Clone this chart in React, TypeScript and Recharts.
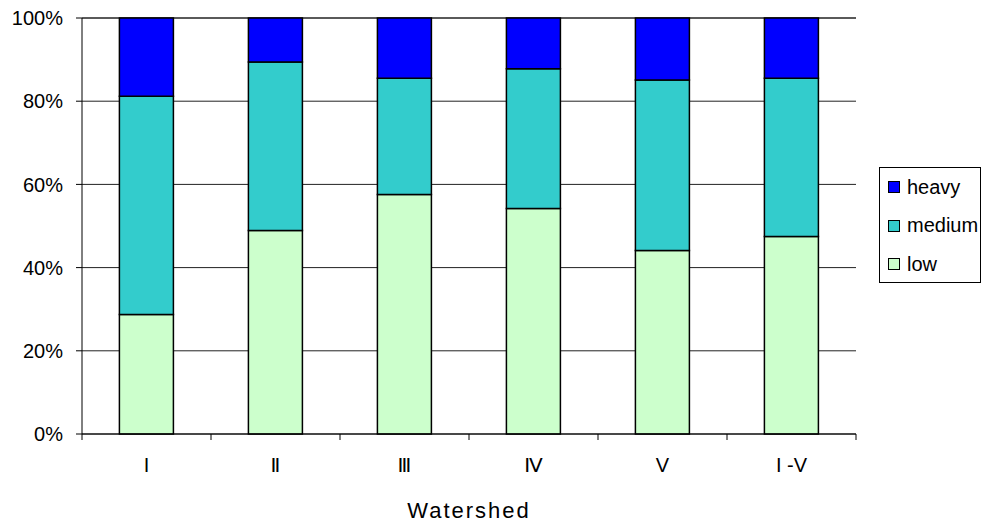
import React from 'react'
import { BarChart, Bar, XAxis, YAxis, CartesianGrid, Label } from 'recharts'

const watersheds = ['I', 'Ⅱ', 'Ⅲ', 'Ⅳ', 'V', 'I -V']
const low = [28.7, 48.9, 57.6, 54.2, 44.1, 47.5]
const medium = [52.5, 40.5, 27.9, 33.6, 41.0, 38.0]
const heavy = [18.8, 10.6, 14.5, 12.2, 14.9, 14.5]
const percentTicks = [0, 20, 40, 60, 80, 100]

const series = [
  { key: 'heavy', color: '#0000ff' },
  { key: 'medium', color: '#33cccc' },
  { key: 'low', color: '#ccffcc' },
]

const data = watersheds.map((name, i) => ({
  name,
  low: low[i],
  medium: medium[i],
  heavy: heavy[i],
}))

const FONT = '"Liberation Sans", Arial, "DejaVu Sans", sans-serif'

// category label centred in its band, with tick marks on the band edges
const BandTick = (props: any) => {
  const { x, y, payload, index, visibleTicksCount } = props
  const half = payload.offset || 0
  const isLast = index === visibleTicksCount - 1
  return (
    <g>
      <line x1={x - half} x2={x - half} y1={y} y2={y + 6} stroke="#000" />
      {isLast && <line x1={x + half} x2={x + half} y1={y} y2={y + 6} stroke="#000" />}
      <text x={x} y={y + 38} textAnchor="middle" fontSize={20} fill="#000" fontFamily={FONT}>
        {payload.value}
      </text>
    </g>
  )
}

const LegendBox = () => (
  <div
    style={{
      position: 'absolute',
      left: 879,
      top: 167,
      border: '1px solid #000',
      background: '#fff',
      width: 102,
      height: 116,
      boxSizing: 'border-box',
      padding: '0 0 0 8px',
      fontFamily: FONT,
      fontSize: 20,
      color: '#000',
    }}
  >
    {series.map((s) => (
      <div key={s.key} style={{ display: 'flex', alignItems: 'center', height: 38.5 }}>
        <span
          style={{
            display: 'inline-block',
            width: 12,
            height: 12,
            background: s.color,
            border: '1px solid #000',
            marginRight: 7,
            boxSizing: 'border-box',
          }}
        />
        <span>{s.key}</span>
      </div>
    ))}
  </div>
)

const App: React.FC = () => {
  const tickStyle = { fontSize: 20, fill: '#000', fontFamily: FONT }

  return (
    <div style={{ position: 'absolute', left: 0, top: 0, width: 982, height: 522, background: '#fff', fontFamily: FONT }}>
      <BarChart
        width={982}
        height={522}
        data={data}
        margin={{ top: 18, right: 126, left: 0, bottom: 0 }}
        barCategoryGap="29%"
      >
        <CartesianGrid horizontal vertical={false} stroke="#222" strokeWidth={1} />
        <XAxis
          dataKey="name"
          height={88}
          axisLine={{ stroke: '#000' }}
          tickLine={false}
          tickSize={0}
          tickMargin={0}
          tick={<BandTick />}
          interval={0}
        >
          <Label
            value="Watershed"
            position="insideBottom"
            offset={4}
            style={{ fontSize: 22, letterSpacing: 2, fill: '#000', fontFamily: FONT }}
          />
        </XAxis>
        <YAxis
          width={82}
          domain={[0, 100]}
          ticks={percentTicks}
          tickFormatter={(v) => `${v}%`}
          tick={tickStyle}
          tickSize={6}
          tickMargin={13}
          axisLine={{ stroke: '#000' }}
          tickLine={{ stroke: '#000' }}
          interval={0}
        />
        <Bar dataKey="low" stackId="a" fill="#ccffcc" stroke="#000" strokeWidth={1.5} isAnimationActive={false} />
        <Bar dataKey="medium" stackId="a" fill="#33cccc" stroke="#000" strokeWidth={1.5} isAnimationActive={false} />
        <Bar dataKey="heavy" stackId="a" fill="#0000ff" stroke="#000" strokeWidth={1.5} isAnimationActive={false} />
      </BarChart>
      <LegendBox />
    </div>
  )
}

export default App
